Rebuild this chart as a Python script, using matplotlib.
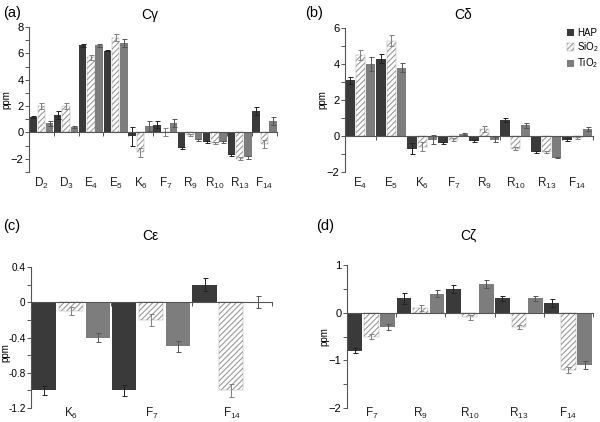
import numpy as np
import matplotlib
matplotlib.use("Agg")
import matplotlib.pyplot as plt
from matplotlib.patches import Patch
from matplotlib.transforms import blended_transform_factory

plt.rcParams["font.family"] = ["Liberation Sans", "DejaVu Sans"]
plt.rcParams["mathtext.default"] = "regular"
plt.rcParams["hatch.linewidth"] = 0.8

# (a) C-gamma
a_cats = ["D$_2$", "D$_3$", "E$_4$", "E$_5$", "K$_6$", "F$_7$", "R$_9$", "R$_{10}$", "R$_{13}$", "F$_{14}$"]
a_hap = [1.2, 1.3, 6.6, 6.2, -0.3, 0.6, -1.2, -0.7, -1.7, 1.6]
a_hap_err = [0.08, 0.3, 0.1, 0.05, 0.7, 0.25, 0.08, 0.08, 0.08, 0.3]
a_sio = [2.0, 2.0, 5.7, 7.2, -1.5, 0.0, -0.2, -0.8, -2.0, -0.9]
a_sio_err = [0.2, 0.2, 0.2, 0.3, 0.35, 0.3, 0.08, 0.1, 0.1, 0.3]
a_tio = [0.7, 0.4, 6.6, 6.8, 0.5, 0.7, -0.6, -0.7, -1.9, 0.9]
a_tio_err = [0.2, 0.08, 0.1, 0.3, 0.4, 0.3, 0.08, 0.08, 0.15, 0.3]

# (b) C-delta
b_cats = ["E$_4$", "E$_5$", "K$_6$", "F$_7$", "R$_9$", "R$_{10}$", "R$_{13}$", "F$_{14}$"]
b_hap = [3.1, 4.3, -0.7, -0.4, -0.3, 0.9, -0.9, -0.2]
b_hap_err = [0.2, 0.25, 0.3, 0.05, 0.06, 0.1, 0.05, 0.1]
b_sio = [4.5, 5.3, -0.6, -0.2, 0.4, -0.7, -0.9, -0.1]
b_sio_err = [0.3, 0.3, 0.25, 0.1, 0.15, 0.1, 0.05, 0.05]
b_tio = [4.0, 3.8, -0.2, 0.1, -0.2, 0.6, -1.2, 0.4]
b_tio_err = [0.4, 0.25, 0.25, 0.04, 0.15, 0.15, 0.04, 0.1]

# (c) C-epsilon
c_cats = ["K$_6$", "F$_7$", "F$_{14}$"]
c_hap = [-1.0, -1.0, 0.2]
c_hap_err = [0.05, 0.06, 0.07]
c_sio = [-0.1, -0.2, -1.0]
c_sio_err = [0.05, 0.07, 0.07]
c_tio = [-0.4, -0.5, 0.0]
c_tio_err = [0.05, 0.06, 0.07]

# (d) C-zeta
d_cats = ["F$_7$", "R$_9$", "R$_{10}$", "R$_{13}$", "F$_{14}$"]
d_hap = [-0.8, 0.3, 0.5, 0.3, 0.2]
d_hap_err = [0.05, 0.12, 0.08, 0.06, 0.08]
d_sio = [-0.5, 0.1, -0.1, -0.3, -1.2]
d_sio_err = [0.06, 0.06, 0.06, 0.05, 0.06]
d_tio = [-0.3, 0.4, 0.6, 0.3, -1.1]
d_tio_err = [0.06, 0.08, 0.08, 0.05, 0.08]

HAP_C = "#3a3a3a"
TIO_C = "#7d7d7d"
HATCH_C = "#9a9a9a"

fig = plt.figure(figsize=(6, 4.22), dpi=100)


def panel(rect, cats, hap, hap_e, sio, sio_e, tio, tio_e, ylim, major, lab_y, ylab_x, ylab_y=0.5):
    ax = fig.add_axes(rect)
    n = len(cats)
    x = np.arange(n)
    w = 0.3
    ek = dict(capsize=1.8, elinewidth=0.7, capthick=0.7)
    ax.bar(x + 0.16, hap, w, color=HAP_C, yerr=hap_e,
           error_kw=dict(ecolor="#222222", **ek), zorder=2)
    ax.bar(x + 0.495, sio, w, color="white", edgecolor=HATCH_C, linewidth=0.3,
           hatch="//////", yerr=sio_e, error_kw=dict(ecolor="#808080", **ek), zorder=2)
    ax.bar(x + 0.83, tio, w, color=TIO_C, yerr=tio_e,
           error_kw=dict(ecolor="#555555", **ek), zorder=2)
    ax.set_xlim(0, n)
    ax.set_ylim(*ylim)
    ax.set_yticks(np.arange(ylim[0], ylim[1] + major / 2, major))
    ax.set_yticks(np.arange(ylim[0], ylim[1] + major / 4, major / 2), minor=True)
    ax.spines["top"].set_visible(False)
    ax.spines["right"].set_visible(False)
    ax.spines["bottom"].set_position(("data", 0))
    ax.spines["bottom"].set_color("#555555")
    ax.spines["left"].set_color("#555555")
    ax.spines["bottom"].set_linewidth(0.8)
    ax.spines["left"].set_linewidth(0.8)
    ax.set_xticks(np.arange(1, n + 1))
    ax.set_xticklabels([])
    ax.tick_params(axis="x", direction="out", length=3, width=0.7, color="#555555")
    ax.tick_params(axis="y", which="both", direction="out", length=3, width=0.7,
                   color="#555555", labelsize=8, pad=1)
    ax.set_ylabel("ppm", fontsize=7)
    # ylabel right edge given in figure pixels
    ax.yaxis.set_label_coords(ylab_x / 600, ylab_y,
                              transform=blended_transform_factory(fig.transFigure, ax.transAxes))
    tr = blended_transform_factory(ax.transData, ax.transAxes)
    for i, c in enumerate(cats):
        ax.text(i + 0.5, lab_y, c, transform=tr, ha="center", va="center",
                fontsize=8.5, color="#222222")
    return ax


def fmt(v):
    s = ("%g" % round(v, 3))
    return "0" if s in ("0", "-0") else s


ax_a = panel([29 / 600, 1 - 172 / 422, 248 / 600, 145 / 422], a_cats, a_hap, a_hap_err,
             a_sio, a_sio_err, a_tio, a_tio_err, (-3, 8), 2, -0.08, 11)
ax_a.set_yticks([-2, 0, 2, 4, 6, 8])
ax_a.set_yticks(np.arange(-3, 9, 1), minor=True)

ax_b = panel([345 / 600, 1 - 172 / 422, 248 / 600, 144 / 422], b_cats, b_hap, b_hap_err,
             b_sio, b_sio_err, b_tio, b_tio_err, (-2, 6), 2, -0.08, 327)

ax_c = panel([31 / 600, 1 - 408 / 422, 241 / 600, 141 / 422], c_cats, c_hap, c_hap_err,
             c_sio, c_sio_err, c_tio, c_tio_err, (-1.2, 0.4), 0.4, -0.04, 10, 0.39)
ax_c.set_yticklabels([fmt(v) for v in ax_c.get_yticks()])
ax_c.tick_params(axis="y", labelsize=7.2)

ax_d = panel([347 / 600, 1 - 408 / 422, 246 / 600, 143 / 422], d_cats, d_hap, d_hap_err,
             d_sio, d_sio_err, d_tio, d_tio_err, (-2, 1), 1, -0.04, 329)

# panel letters and titles
fig.text(3 / 600, 1 - 13 / 422, "(a)", fontsize=10.5, va="center")
fig.text(150 / 600, 1 - 15 / 422, "C\u03b3", fontsize=10, ha="center", va="center")
fig.text(305 / 600, 1 - 13 / 422, "(b)", fontsize=10.5, va="center")
fig.text(463 / 600, 1 - 15 / 422, "C\u03b4", fontsize=10, ha="center", va="center")
fig.text(3 / 600, 1 - 226 / 422, "(c)", fontsize=10.5, va="center")
fig.text(150 / 600, 1 - 236 / 422, "C\u03b5", fontsize=10, ha="center", va="center")
fig.text(316 / 600, 1 - 226 / 422, "(d)", fontsize=10.5, va="center")
fig.text(468 / 600, 1 - 236 / 422, "C\u03b6", fontsize=10, ha="center", va="center")

handles = [Patch(facecolor=HAP_C),
           Patch(facecolor="white", edgecolor=HATCH_C, hatch="//////", linewidth=0.3),
           Patch(facecolor=TIO_C)]
fig.legend(handles, ["HAP", "SiO$_2$", "TiO$_2$"], loc="upper right",
           bbox_to_anchor=(1.0, 1 - 27 / 422), frameon=False, fontsize=7,
           handlelength=0.8, handleheight=0.8, handletextpad=0.3, labelspacing=0.25,
           borderaxespad=0, borderpad=0.1)

fig.savefig("out.png", dpi=100)
